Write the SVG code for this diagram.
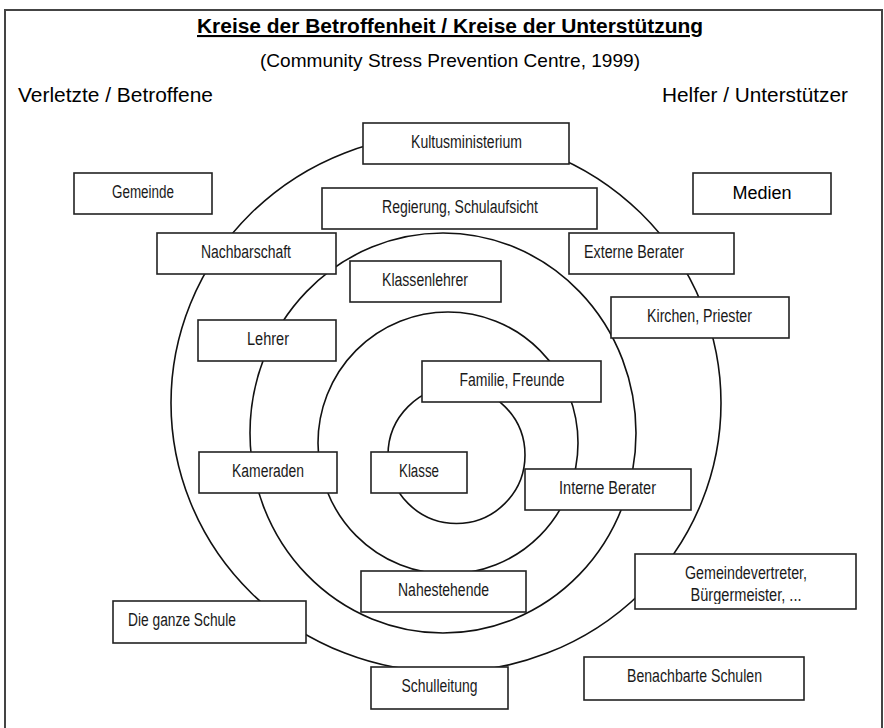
<svg xmlns="http://www.w3.org/2000/svg" width="884" height="728" viewBox="0 0 884 728">
<defs>
<style>
.frame{fill:none;stroke:#444;stroke-width:2}
.ring{fill:none;stroke:#111;stroke-width:1.6}
.box rect{fill:#fff;stroke:#222;stroke-width:1.6}
.box text{font-family:"Liberation Sans",Arial,sans-serif;font-size:18px;fill:#1a1a1a;text-anchor:middle}
.hdr{font-family:"Liberation Sans",Arial,sans-serif;fill:#000}
</style>
<clipPath id="clipGv"><rect x="635" y="554" width="221" height="50"/></clipPath>
</defs>
<rect id="frame" class="frame" x="5" y="10" width="877" height="740"/>
<g id="header">
<text class="hdr" x="450" y="33" font-size="21" font-weight="bold" text-anchor="middle" text-decoration="underline" textLength="506" lengthAdjust="spacingAndGlyphs">Kreise der Betroffenheit / Kreise der Unterstützung</text>
<text class="hdr" x="450" y="67" font-size="19" text-anchor="middle" textLength="380" lengthAdjust="spacingAndGlyphs">(Community Stress Prevention Centre, 1999)</text>
<text class="hdr" x="18" y="102" font-size="21" textLength="195" lengthAdjust="spacingAndGlyphs">Verletzte / Betroffene</text>
<text class="hdr" x="662" y="102" font-size="21" textLength="186" lengthAdjust="spacingAndGlyphs">Helfer / Unterstützer</text>
</g>
<g id="rings">
<ellipse class="ring" cx="446" cy="403" rx="275" ry="269"/>
<ellipse class="ring" cx="443" cy="433" rx="193" ry="200"/>
<ellipse class="ring" cx="448" cy="443" rx="130" ry="131"/>
<circle class="ring" cx="456.5" cy="455" r="68.5"/>
</g>
<g id="kultusministerium" class="box"><rect x="363" y="123" width="206" height="41"/><text x="466.5" y="148" textLength="111" lengthAdjust="spacingAndGlyphs">Kultusministerium</text></g>
<g id="gemeinde" class="box"><rect x="74" y="173" width="138" height="41"/><text x="143" y="198" textLength="62" lengthAdjust="spacingAndGlyphs">Gemeinde</text></g>
<g id="medien" class="box"><rect x="693" y="173" width="138" height="41"/><text x="762" y="199" style="font-size:18px;fill:#000">Medien</text></g>
<g id="regierung" class="box"><rect x="322" y="188" width="275" height="41"/><text x="460" y="213" textLength="156" lengthAdjust="spacingAndGlyphs">Regierung, Schulaufsicht</text></g>
<g id="nachbarschaft" class="box"><rect x="157" y="233" width="179" height="41"/><text x="246" y="258" textLength="90" lengthAdjust="spacingAndGlyphs">Nachbarschaft</text></g>
<g id="externe-berater" class="box"><rect x="569" y="233" width="165" height="41"/><text x="584" y="258" style="text-anchor:start" textLength="100" lengthAdjust="spacingAndGlyphs">Externe Berater</text></g>
<g id="klassenlehrer" class="box"><rect x="350" y="261" width="151" height="41"/><text x="425" y="286" textLength="86" lengthAdjust="spacingAndGlyphs">Klassenlehrer</text></g>
<g id="kirchen" class="box"><rect x="611" y="297" width="178" height="41"/><text x="699.5" y="322" textLength="105" lengthAdjust="spacingAndGlyphs">Kirchen, Priester</text></g>
<g id="lehrer" class="box"><rect x="198" y="320" width="138" height="41"/><text x="268" y="345" textLength="42" lengthAdjust="spacingAndGlyphs">Lehrer</text></g>
<g id="familie" class="box"><rect x="422" y="361" width="179" height="41"/><text x="512" y="386" textLength="105" lengthAdjust="spacingAndGlyphs">Familie, Freunde</text></g>
<g id="kameraden" class="box"><rect x="199" y="452" width="138" height="41"/><text x="268" y="477" textLength="72" lengthAdjust="spacingAndGlyphs">Kameraden</text></g>
<g id="klasse" class="box"><rect x="371" y="452" width="96" height="41"/><text x="419" y="477" textLength="40" lengthAdjust="spacingAndGlyphs">Klasse</text></g>
<g id="interne-berater" class="box"><rect x="525" y="469" width="166" height="41"/><text x="607.5" y="494" textLength="97" lengthAdjust="spacingAndGlyphs">Interne Berater</text></g>
<g id="gemeindevertreter" class="box"><rect x="635" y="554" width="221" height="55"/><g clip-path="url(#clipGv)"><text x="746" y="579" textLength="122" lengthAdjust="spacingAndGlyphs">Gemeindevertreter,</text><text x="746" y="601" textLength="111" lengthAdjust="spacingAndGlyphs">Bürgermeister, ...</text></g></g>
<g id="nahestehende" class="box"><rect x="361" y="571" width="165" height="41"/><text x="443.5" y="596" textLength="91" lengthAdjust="spacingAndGlyphs">Nahestehende</text></g>
<g id="ganze-schule" class="box"><rect x="113" y="601" width="193" height="42"/><text x="128" y="626" style="text-anchor:start" textLength="108" lengthAdjust="spacingAndGlyphs">Die ganze Schule</text></g>
<g id="benachbarte-schulen" class="box"><rect x="584" y="657" width="220" height="43"/><text x="694.5" y="682" textLength="135" lengthAdjust="spacingAndGlyphs">Benachbarte Schulen</text></g>
<g id="schulleitung" class="box"><rect x="371" y="667" width="137" height="42"/><text x="439.5" y="692" textLength="76" lengthAdjust="spacingAndGlyphs">Schulleitung</text></g>
</svg>
